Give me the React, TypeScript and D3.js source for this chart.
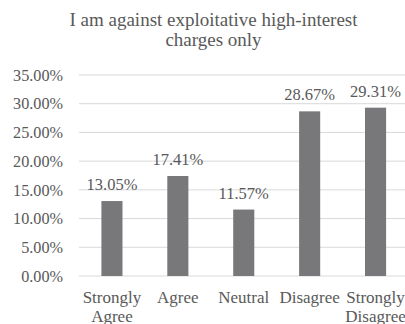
import React from "react";
import * as d3 from "d3";

const categories: string[][] = [
  ["Strongly", "Agree"],
  ["Agree"],
  ["Neutral"],
  ["Disagree"],
  ["Strongly", "Disagree"],
];
const values: number[] = [0.1305, 0.1741, 0.1157, 0.2867, 0.2931];
const yTicks: number[] = [0, 0.05, 0.1, 0.15, 0.2, 0.25, 0.3, 0.35];
const titleLines: string[] = ["I am against exploitative high-interest", "charges only"];

const W = 405;
const H = 324;
const FONT = "Liberation Serif";
const TEXT = "#595959";

export default function App() {
  const x = d3
    .scaleBand<number>()
    .domain(values.map((_, i) => i))
    .range([79, 408.5])
    .paddingInner(0.68)
    .paddingOuter(0.34);
  const y = d3.scaleLinear().domain([0, 0.35]).range([276, 75]);
  const fmt = (v: number) => (v * 100).toFixed(2) + "%";
  const ts = { fontFamily: FONT };

  return (
    <svg
      width={W}
      height={H}
      style={{ position: "absolute", left: 0, top: 0, background: "#fff" }}
    >
      <rect x={0} y={0} width={W} height={H} fill="#fff" />
      {titleLines.map((t, i) => (
        <text key={i} x={213.5} y={26 + i * 19.5} textAnchor="middle" fontSize={19} fill={TEXT} style={ts}>
          {t}
        </text>
      ))}
      {yTicks.map((t) => (
        <g key={t}>
          <line x1={79} x2={409} y1={y(t)} y2={y(t)} stroke="#d9d9d9" strokeWidth={1} />
          <text x={63} y={y(t)} dy="0.35em" textAnchor="end" fontSize={16.2} fill={TEXT} style={ts}>
            {fmt(t)}
          </text>
        </g>
      ))}
      {values.map((v, i) => (
        <g key={i}>
          <rect
            x={x(i)!}
            y={y(v)}
            width={x.bandwidth()}
            height={y(0) - y(v)}
            fill="#78787b"
          />
          <text
            x={x(i)! + x.bandwidth() / 2}
            y={y(v) - 11}
            textAnchor="middle"
            fontSize={16.5}
            fill={TEXT}
            style={ts}
          >
            {fmt(v)}
          </text>
          {categories[i].map((line, j) => (
            <text
              key={j}
              x={x(i)! + x.bandwidth() / 2}
              y={303 + j * 19}
              textAnchor="middle"
              fontSize={17}
              fill={TEXT}
              style={ts}
            >
              {line}
            </text>
          ))}
        </g>
      ))}
    </svg>
  );
}
